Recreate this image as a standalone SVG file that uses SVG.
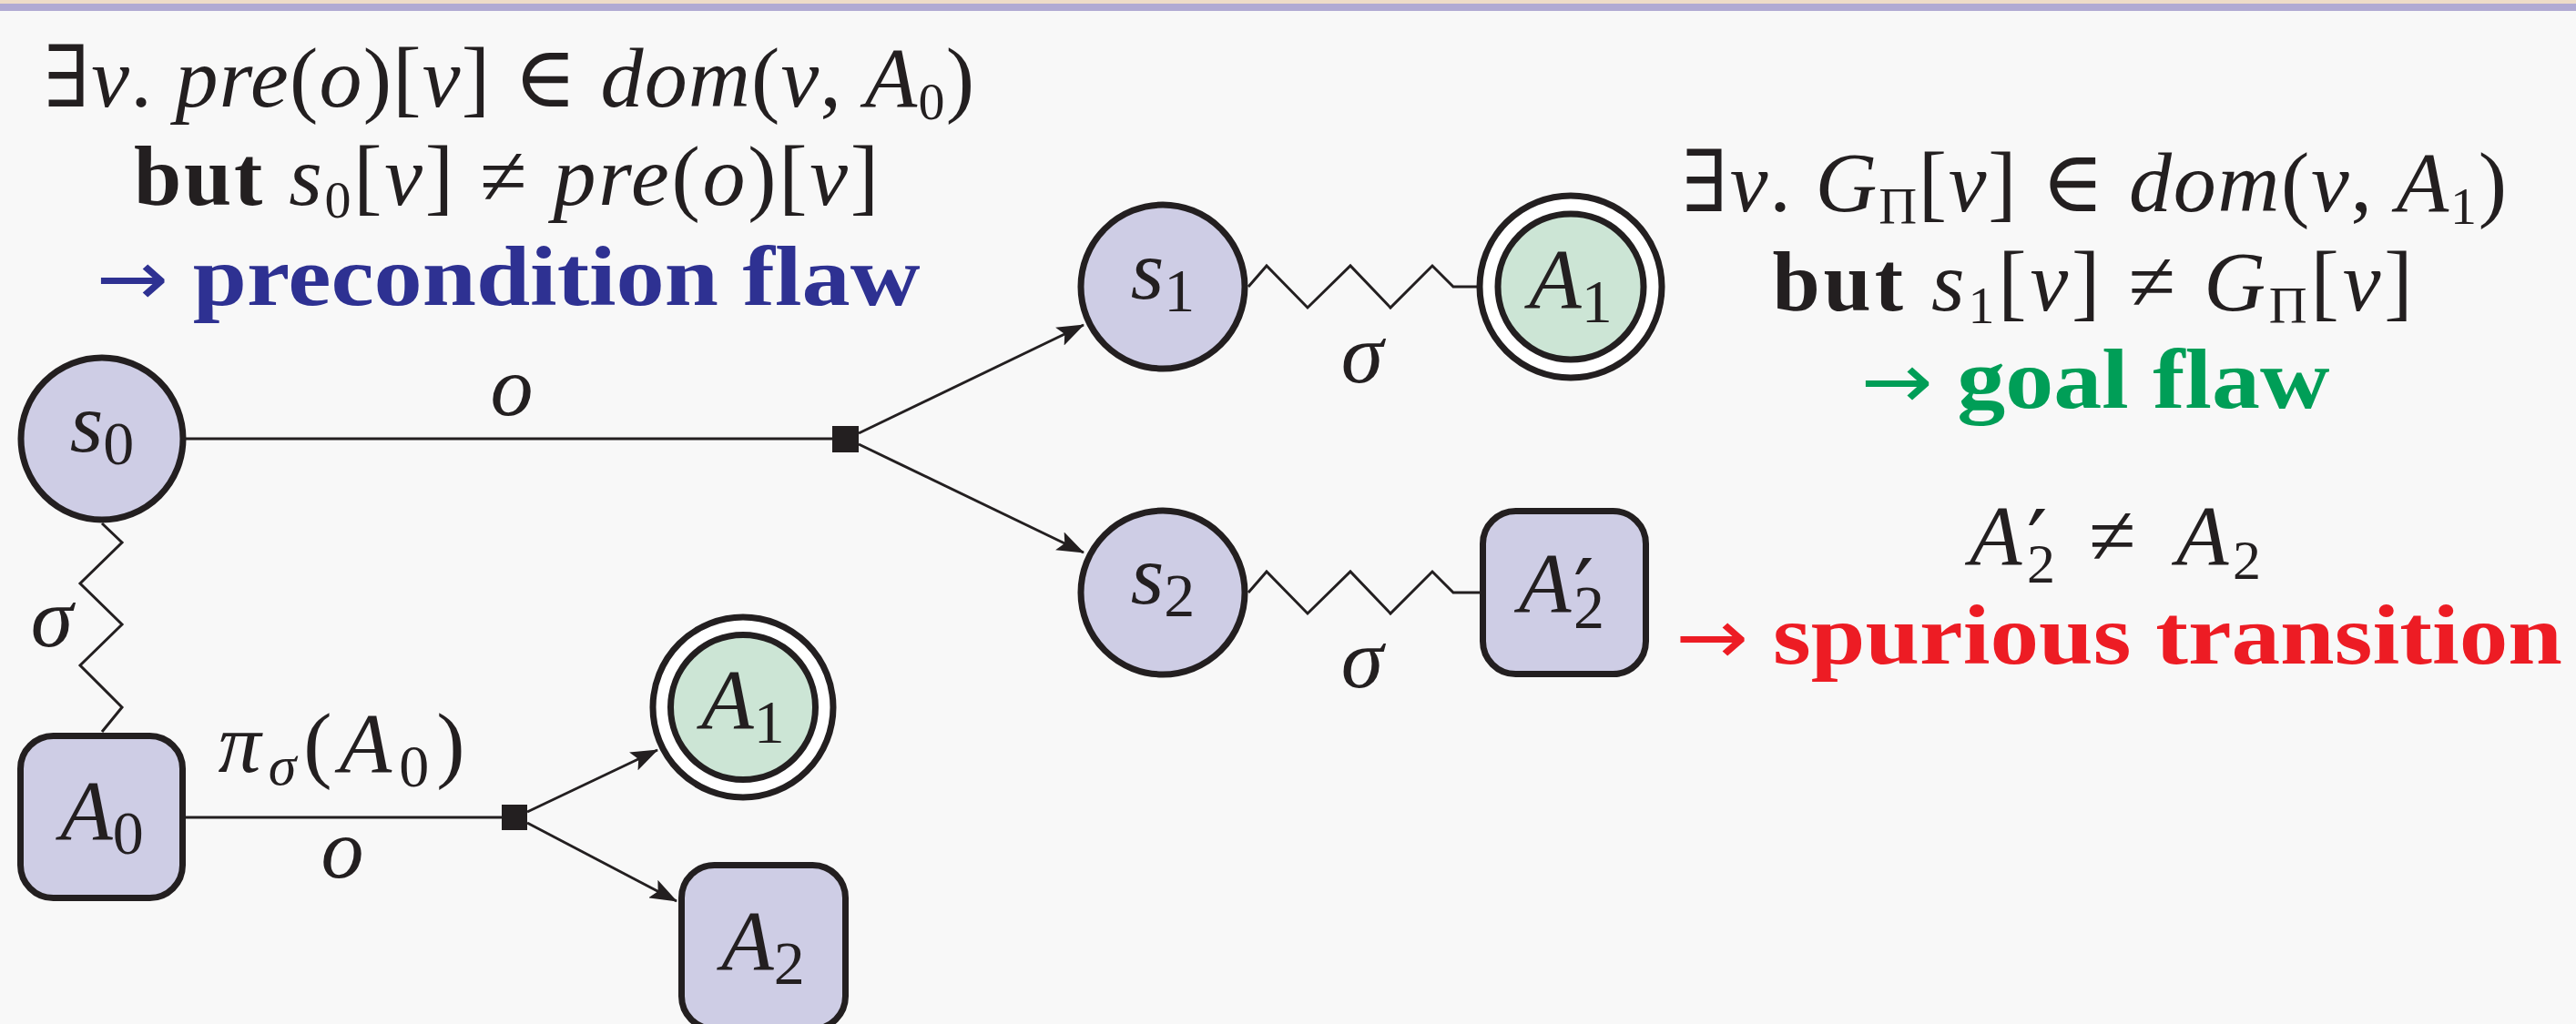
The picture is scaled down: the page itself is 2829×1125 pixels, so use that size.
<svg xmlns="http://www.w3.org/2000/svg" width="2829" height="1125" viewBox="0 0 2829 1125">
<defs>
<style>
text{font-family:"Liberation Serif","DejaVu Serif",serif;fill:#231f20;}
.t{font-size:94px;text-anchor:middle;}
.s{font-size:94px;text-anchor:start;}
.lbl{font-size:94px;text-anchor:middle;font-style:italic;}
.i{font-style:italic;}
.b{font-weight:bold;}
.ar{font-family:"DejaVu Sans",sans-serif;font-weight:normal;font-size:84px;}
.pr{font-family:"DejaVu Serif",serif;font-style:normal;font-size:100px;}
.st{fill:#cecde5;stroke:#231f20;stroke-width:7;}
.goal{fill:#cce5d5;stroke:#231f20;stroke-width:7;}
.ring{fill:#ffffff;stroke:#231f20;stroke-width:7;}
.edge{fill:none;stroke:#231f20;stroke-width:3;}
.arr{fill:none;stroke:#231f20;stroke-width:3;marker-end:url(#ah);}
.jn{fill:#231f20;}
</style>
<marker id="ah" viewBox="0 0 30 22" refX="29" refY="11" markerWidth="30" markerHeight="22" markerUnits="userSpaceOnUse" orient="auto">
<path d="M0,0 L30,11 L0,22 L6,11 z" fill="#231f20"/>
</marker>
</defs>
<rect x="0" y="0" width="2829" height="1125" fill="#f8f8f8"/>
<rect x="0" y="0" width="2829" height="4" fill="#eddcc8"/>
<rect x="0" y="4" width="2829" height="8" fill="#b0aad3"/>

<g id="connectors">
<line class="edge" x1="204" y1="482" x2="915" y2="482"/>
<line class="arr" x1="943" y1="476" x2="1190" y2="357"/>
<line class="arr" x1="943" y1="488" x2="1190" y2="607"/>
<polyline class="edge" points="112,575 134,596 88,641 134,686 88,731 134,777 112,804"/>
<polyline class="edge" points="1371,315 1391,292 1436,338 1483,292 1527,338 1573,292 1596,315 1622,315"/>
<polyline class="edge" points="1371,651 1391,628 1436,674 1483,628 1527,674 1573,628 1596,651 1626,651"/>
<line class="edge" x1="204" y1="898" x2="552" y2="898"/>
<line class="arr" x1="579" y1="892" x2="722" y2="824"/>
<line class="arr" x1="579" y1="904" x2="743" y2="990"/>
<rect id="junction1" class="jn" x="914" y="468" width="29" height="29"/>
<rect id="junction2" class="jn" x="551" y="884" width="28" height="28"/>
<text class="lbl" x="562" y="456">o</text>
<text class="lbl" x="57" y="710">σ</text>
<text class="lbl" x="1496" y="420">σ</text>
<text class="lbl" x="1496" y="755">σ</text>
<text class="t" x="375" y="848" textLength="271" lengthAdjust="spacing"><tspan class="i">π</tspan><tspan class="i" font-size="62" dy="14">σ</tspan><tspan dy="-14">(</tspan><tspan class="i">A</tspan><tspan font-size="66" dy="16">0</tspan><tspan dy="-16">)</tspan></text>
<text class="lbl" x="376" y="964">o</text>
</g>

<g id="s0">
<circle class="st" cx="112" cy="482" r="89"/>
<text class="t" x="112" y="496"><tspan class="i">s</tspan><tspan font-size="68" dy="14">0</tspan></text>
</g>
<g id="s1">
<circle class="st" cx="1277" cy="315" r="90"/>
<text class="t" x="1277" y="328"><tspan class="i">s</tspan><tspan font-size="68" dy="14">1</tspan></text>
</g>
<g id="s2">
<circle class="st" cx="1277" cy="651" r="90"/>
<text class="t" x="1277" y="663"><tspan class="i">s</tspan><tspan font-size="68" dy="14">2</tspan></text>
</g>
<g id="A1-top">
<circle class="ring" cx="1725" cy="315" r="100"/>
<circle class="goal" cx="1725" cy="315" r="80"/>
<text class="t" x="1725" y="338"><tspan class="i">A</tspan><tspan font-size="68" dy="16">1</tspan></text>
</g>
<g id="A2prime">
<rect class="st" x="1628.5" y="561.5" width="179" height="179" rx="36"/>
<text class="s" x="1668" y="672"><tspan class="i">A</tspan><tspan class="pr" x="1728" y="685">′</tspan><tspan font-size="68" x="1728" y="690">2</tspan></text>
</g>
<g id="A0">
<rect class="st" x="22.5" y="808.5" width="178" height="178" rx="36"/>
<text class="t" x="112" y="922"><tspan class="i">A</tspan><tspan font-size="68" dy="16">0</tspan></text>
</g>
<g id="A1-bottom">
<circle class="ring" cx="816" cy="777" r="99"/>
<circle class="goal" cx="816" cy="777" r="79.5"/>
<text class="t" x="816" y="800"><tspan class="i">A</tspan><tspan font-size="68" dy="16">1</tspan></text>
</g>
<g id="A2">
<rect class="st" x="748.5" y="950.5" width="180" height="180" rx="36"/>
<text class="t" x="838" y="1065"><tspan class="i">A</tspan><tspan font-size="68" dy="16">2</tspan></text>
</g>

<g id="precondition-note">
<text class="t" x="559" y="117" textLength="1022" lengthAdjust="spacing">∃<tspan class="i">v</tspan>. <tspan class="i">pre</tspan>(<tspan class="i">o</tspan>)[<tspan class="i">v</tspan>] ∈ <tspan class="i">dom</tspan>(<tspan class="i">v</tspan>, <tspan class="i">A</tspan><tspan font-size="58" dy="14">0</tspan><tspan dy="-14">)</tspan></text>
<text class="t" x="556" y="225" textLength="818" lengthAdjust="spacing"><tspan class="b">but</tspan>  <tspan class="i">s</tspan><tspan font-size="58" dy="14">0</tspan><tspan dy="-14">[</tspan><tspan class="i">v</tspan>] ≠ <tspan class="i">pre</tspan>(<tspan class="i">o</tspan>)[<tspan class="i">v</tspan>]</text>
<text class="t b" x="558" y="335" style="fill:#2e3192" textLength="905" lengthAdjust="spacingAndGlyphs"><tspan class="ar">→</tspan> precondition flaw</text>
</g>
<g id="goal-note">
<text class="t" x="2300" y="232" textLength="906" lengthAdjust="spacing">∃<tspan class="i">v</tspan>. <tspan class="i">G</tspan><tspan font-size="58" dy="14">Π</tspan><tspan dy="-14">[</tspan><tspan class="i">v</tspan>] ∈ <tspan class="i">dom</tspan>(<tspan class="i">v</tspan>, <tspan class="i">A</tspan><tspan font-size="58" dy="14">1</tspan><tspan dy="-14">)</tspan></text>
<text class="t" x="2298" y="341" textLength="703" lengthAdjust="spacing"><tspan class="b">but</tspan>  <tspan class="i">s</tspan><tspan font-size="58" dy="14">1</tspan><tspan dy="-14">[</tspan><tspan class="i">v</tspan>] ≠ <tspan class="i">G</tspan><tspan font-size="58" dy="14">Π</tspan><tspan dy="-14">[</tspan><tspan class="i">v</tspan>]</text>
<text class="t b" x="2301" y="448" style="fill:#009e57" textLength="515" lengthAdjust="spacingAndGlyphs"><tspan class="ar">→</tspan> goal flaw</text>
</g>
<g id="spurious-note">
<text class="s" x="2163" y="620"><tspan class="i">A</tspan><tspan class="pr" x="2226" y="631">′</tspan><tspan font-size="62" x="2226" y="640">2</tspan><tspan x="2294" y="620">≠</tspan><tspan class="i" x="2390" y="620">A</tspan><tspan font-size="62" x="2452" y="636">2</tspan></text>
<text class="t b" x="2327" y="729" style="fill:#ed1c24" textLength="974" lengthAdjust="spacingAndGlyphs"><tspan class="ar">→</tspan> spurious transition</text>
</g>
</svg>
